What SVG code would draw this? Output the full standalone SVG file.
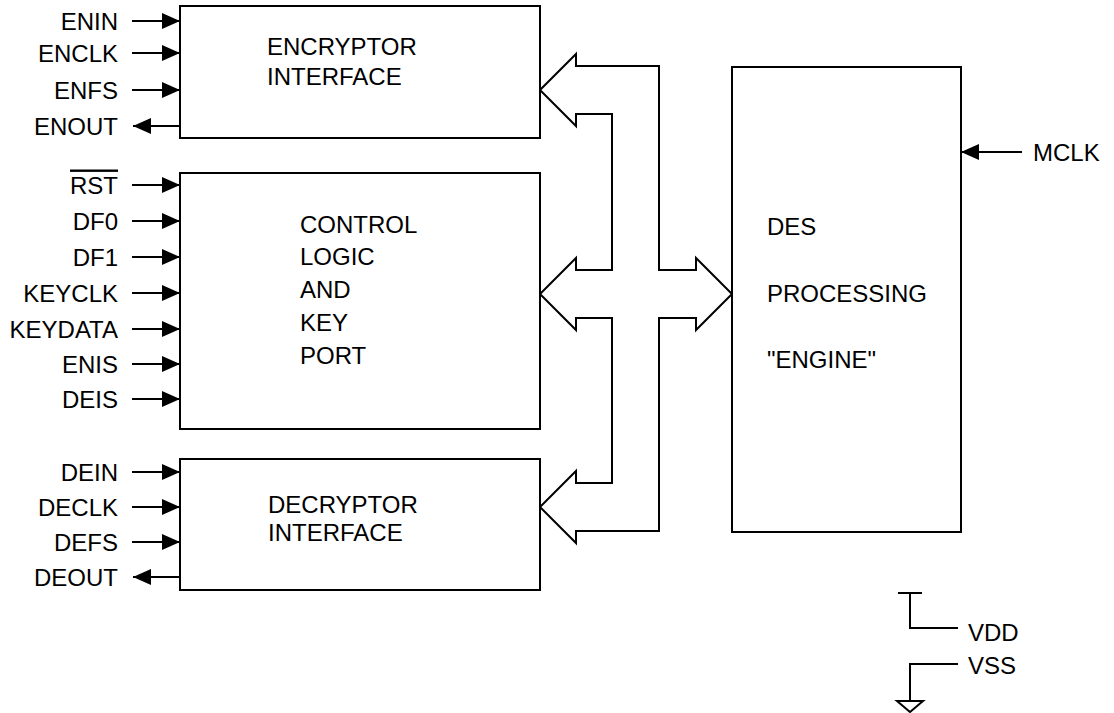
<svg xmlns="http://www.w3.org/2000/svg" width="1114" height="713" viewBox="0 0 1114 713">
<defs>
<style>
text{font-family:"Liberation Sans",Arial,sans-serif;font-size:24px;fill:#000}
.lbl{text-anchor:end}
.box{fill:#fff;stroke:#000;stroke-width:2}
.ln{stroke:#000;stroke-width:2;fill:none}
.bus{fill:#fff;stroke:#000;stroke-width:2;stroke-linejoin:miter}
</style>
<marker id="ah" viewBox="0 0 18 16" refX="18" refY="8" markerWidth="18" markerHeight="16" markerUnits="userSpaceOnUse" orient="auto">
<path d="M0,0 L18,8 L0,16 Z" fill="#000"/>
</marker>
</defs>
<rect width="1114" height="713" fill="#fff"/>

<g id="connectors">
<path class="bus" d="M540,90 L576,54 L576,66 L659,66 L659,270 L696,270 L696,258 L732,294 L696,330 L696,318 L659,318 L659,531 L576,531 L576,543 L540,507 L576,471 L576,483 L612,483 L612,318 L576,318 L576,330 L540,294 L576,258 L576,270 L612,270 L612,114 L576,114 L576,126 Z"/>
<g class="ln" marker-end="url(#ah)">
<line x1="132" y1="21" x2="180" y2="21"/>
<line x1="132" y1="53" x2="180" y2="53"/>
<line x1="132" y1="90" x2="180" y2="90"/>
<line x1="180" y1="126" x2="133" y2="126"/>
<line x1="132" y1="185" x2="180" y2="185"/>
<line x1="132" y1="221" x2="180" y2="221"/>
<line x1="132" y1="257" x2="180" y2="257"/>
<line x1="132" y1="293" x2="180" y2="293"/>
<line x1="132" y1="329" x2="180" y2="329"/>
<line x1="132" y1="364" x2="180" y2="364"/>
<line x1="132" y1="399" x2="180" y2="399"/>
<line x1="132" y1="472" x2="180" y2="472"/>
<line x1="132" y1="507" x2="180" y2="507"/>
<line x1="132" y1="542" x2="180" y2="542"/>
<line x1="180" y1="577" x2="133" y2="577"/>
<line x1="1022" y1="152" x2="961" y2="152"/>
</g>
</g>

<g id="encryptor">
<rect class="box" x="180" y="6" width="360" height="132"/>
<text x="267" y="55">ENCRYPTOR</text>
<text x="267" y="85">INTERFACE</text>
</g>

<g id="control">
<rect class="box" x="180" y="173" width="360" height="256"/>
<text x="300" y="233">CONTROL</text>
<text x="300" y="265">LOGIC</text>
<text x="300" y="298">AND</text>
<text x="300" y="331">KEY</text>
<text x="300" y="364">PORT</text>
</g>

<g id="decryptor">
<rect class="box" x="180" y="459" width="360" height="131"/>
<text x="268" y="513">DECRYPTOR</text>
<text x="268" y="541">INTERFACE</text>
</g>

<g id="des">
<rect class="box" x="732" y="67" width="229" height="465"/>
<text x="767" y="235">DES</text>
<text x="767" y="302">PROCESSING</text>
<text x="767" y="368">"ENGINE"</text>
</g>

<g id="labels">
<text class="lbl" x="118" y="29.5">ENIN</text>
<text class="lbl" x="118" y="61.5">ENCLK</text>
<text class="lbl" x="118" y="98.5">ENFS</text>
<text class="lbl" x="118" y="134.5">ENOUT</text>
<text class="lbl" x="118" y="193.5" text-decoration="overline">RST</text>
<text class="lbl" x="118" y="229.5">DF0</text>
<text class="lbl" x="118" y="265.5">DF1</text>
<text class="lbl" x="118" y="301.5">KEYCLK</text>
<text class="lbl" x="118" y="337.5">KEYDATA</text>
<text class="lbl" x="118" y="372.5">ENIS</text>
<text class="lbl" x="118" y="407.5">DEIS</text>
<text class="lbl" x="118" y="480.5">DEIN</text>
<text class="lbl" x="118" y="515.5">DECLK</text>
<text class="lbl" x="118" y="550.5">DEFS</text>
<text class="lbl" x="118" y="585.5">DEOUT</text>
<text x="1033" y="161">MCLK</text>
</g>

<g id="vdd">
<path class="ln" d="M898,593 H922 M910,593 V628 H958"/>
<text x="968" y="641">VDD</text>
</g>

<g id="vss">
<path class="ln" d="M958,664 H910 V701"/>
<path class="ln" d="M897,701 H923 L910,712 Z"/>
<text x="968" y="674">VSS</text>
</g>
</svg>
